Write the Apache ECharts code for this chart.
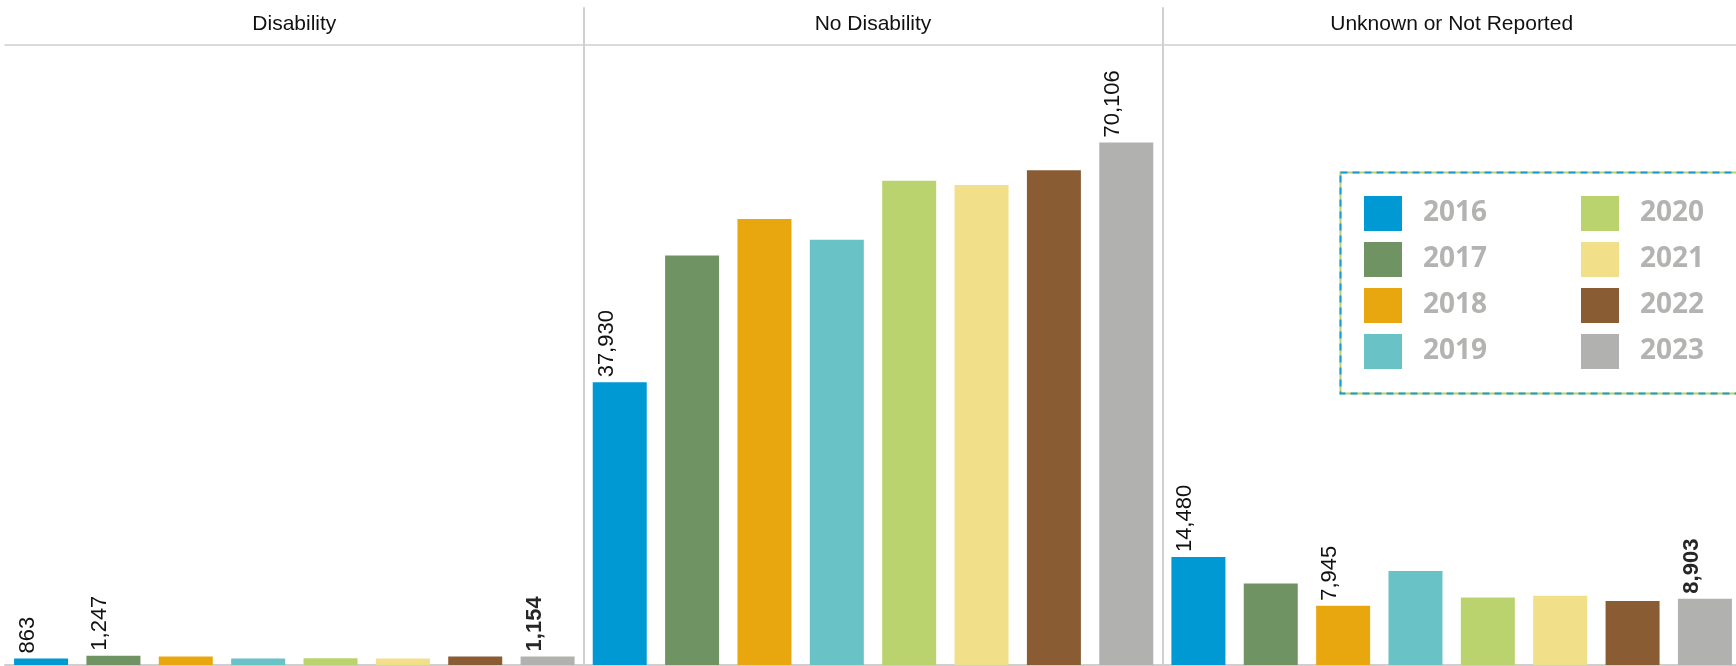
<!DOCTYPE html>
<html>
<head>
<meta charset="utf-8">
<script src="https://cdn.jsdelivr.net/npm/echarts@6/dist/echarts.min.js"></script>
<style>
html,body{margin:0;padding:0;background:#ffffff;}
#chart{width:1736px;height:666px;}
</style>
</head>
<body>
<div id="chart"></div>
<script>
// ---- data ----
const panels = ['Disability', 'No Disability', 'Unknown or Not Reported'];
const years = ['2016', '2017', '2018', '2019', '2020', '2021', '2022', '2023'];
const disability = [863, 1247, 1150, 880, 900, 870, 1140, 1154];
const noDisability = [37930, 54950, 59850, 57050, 65000, 64400, 66400, 70106];
const unknownNotReported = [14480, 10950, 7945, 12600, 9050, 9300, 8600, 8903];

// ---- styles ----
const yearColors = ['#0099d4', '#709363', '#e9a70f', '#69c2c5', '#bbd36f', '#f2df8a', '#8a5c33', '#b1b2af'];
const panelValues = [disability, noDisability, unknownNotReported];
const yMax = 83200;
const gridLeft = 5;
const band = 1736 / 3;
const arialLike = "'Liberation Sans', Arial, sans-serif";

function labelFor(vals, i) {
  const mx = vals.indexOf(Math.max(...vals));
  const mn = vals.indexOf(Math.min(...vals));
  const last = vals.length - 1;
  const show = i === mx || i === mn || i === last;
  const bold = i === last && i !== mx && i !== mn;
  return { show: show, fontWeight: bold ? 'bold' : 'normal', color: bold ? '#262626' : '#111111' };
}

const series = years.map((y, j) => ({
  type: 'bar',
  name: y,
  xAxisIndex: 0,
  yAxisIndex: 0,
  barWidth: 54,
  barGap: '34%',
  itemStyle: { color: yearColors[j] },
  label: {
    show: false,
    position: 'top',
    rotate: 90,
    align: 'left',
    verticalAlign: 'middle',
    distance: 5,
    offset: [0, -13],
    fontSize: 22,
    fontFamily: arialLike,
    formatter: p => Number(p.value).toLocaleString('en-US')
  },
  emphasis: { disabled: true },
  data: panelValues.map(v => ({ value: v[j], label: labelFor(v, j) }))
}));

const legendText = { fontFamily: "'Open Sans', sans-serif", fontWeight: 'bold', fontSize: 28, color: '#b3b3b1', padding: [0, 0, 0, 16] };
const legendCommon = {
  orient: 'vertical', top: 196, padding: 0,
  itemWidth: 38, itemHeight: 35, itemGap: 11,
  icon: 'rect', selectedMode: false,
  itemStyle: { borderWidth: 0 },
  textStyle: legendText
};

const option = {
  animation: false,
  backgroundColor: '#ffffff',
  grid: [
    { left: gridLeft, top: 45, width: 1736, height: 620, outerBoundsMode: 'none', containLabel: false },
    { left: gridLeft + band, top: 8, width: band, height: 658, outerBoundsMode: 'none', containLabel: false }
  ],
  xAxis: [
    { type: 'category', gridIndex: 0, data: panels, position: 'bottom',
      axisLine: { show: true, lineStyle: { color: '#cfcfcf', width: 2 } },
      axisTick: { show: false }, axisLabel: { show: false }, splitLine: { show: false } },
    { type: 'category', gridIndex: 0, data: panels, position: 'top',
      axisLine: { show: true, lineStyle: { color: '#d0d0d0', width: 1.5 } },
      axisTick: { show: false },
      axisLabel: { show: true, margin: 10, fontSize: 21, color: '#111111', fontFamily: arialLike },
      splitLine: { show: false } },
    { type: 'value', gridIndex: 1, min: 0, max: 1, show: false }
  ],
  yAxis: [
    { type: 'value', gridIndex: 0, min: 0, max: yMax, show: false, splitLine: { show: false } },
    { type: 'value', gridIndex: 1, min: 0, max: 1, position: 'left',
      axisLine: { show: true, lineStyle: { color: '#d0d0d0', width: 2 } },
      axisTick: { show: false }, axisLabel: { show: false }, splitLine: { show: false } },
    { type: 'value', gridIndex: 1, min: 0, max: 1, position: 'right',
      axisLine: { show: true, lineStyle: { color: '#d0d0d0', width: 2 } },
      axisTick: { show: false }, axisLabel: { show: false }, splitLine: { show: false } }
  ],
  legend: [
    Object.assign({}, legendCommon, { left: 1364, data: years.slice(0, 4) }),
    Object.assign({}, legendCommon, { left: 1581, data: years.slice(4) })
  ],
  graphic: [
    { type: 'rect', left: 1338, top: 170, z: 10, shape: { width: 420, height: 221 },
      style: { fill: 'none', stroke: '#b9d36c', lineWidth: 2 } },
    { type: 'rect', left: 1338, top: 170, z: 11, shape: { width: 420, height: 221 },
      style: { fill: 'none', stroke: '#1a9ad6', lineWidth: 2, lineDash: [7, 5] } }
  ],
  series: series
};

const chart = echarts.init(document.getElementById('chart'), null, { renderer: 'canvas' });
chart.setOption(option);
</script>
</body>
</html>
